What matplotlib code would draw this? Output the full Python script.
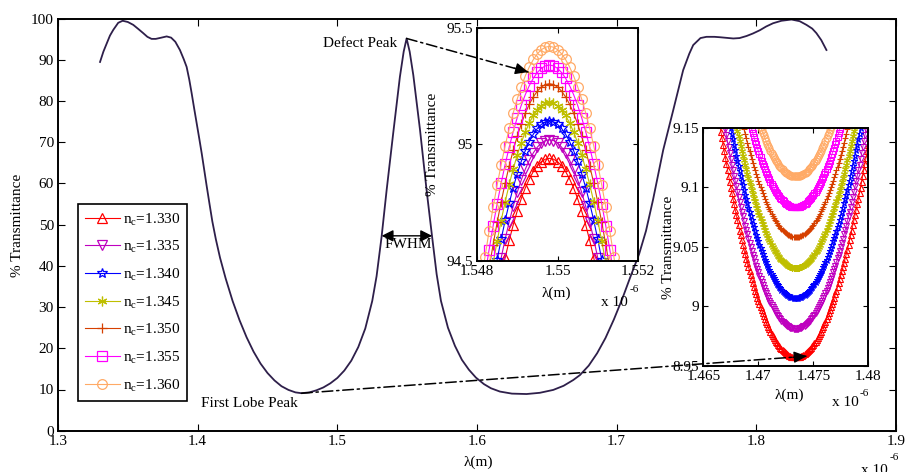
import numpy as np
import matplotlib.pyplot as plt
from matplotlib.patches import ConnectionPatch

plt.rcParams['font.family'] = ['Liberation Serif', 'DejaVu Serif']
plt.rcParams['font.size'] = 11
plt.rcParams['mathtext.fontset'] = 'custom'
plt.rcParams['mathtext.rm'] = 'Liberation Serif'

# transmission spectrum (wavelength in um, transmittance in %)
wl_main = [1.3301, 1.3325, 1.3349, 1.3372, 1.3396, 1.3431, 1.3463, 1.3500, 1.3539,
           1.3575, 1.3610, 1.3640, 1.3670, 1.3700, 1.3740, 1.3778, 1.3810, 1.3840,
           1.3873, 1.3900, 1.3921, 1.3940, 1.3957, 1.3975, 1.3993, 1.4011, 1.4029,
           1.4047, 1.4064, 1.4085, 1.4105, 1.4130, 1.4160, 1.4200, 1.4250, 1.4300,
           1.4350, 1.4400, 1.4450, 1.4500, 1.4550, 1.4600, 1.4650, 1.4700, 1.4744,
           1.4800, 1.4850, 1.4900, 1.4950, 1.5000, 1.5050, 1.5100, 1.5150, 1.5200,
           1.5250, 1.5281, 1.5317, 1.5353, 1.5400, 1.5448, 1.5475, 1.5496, 1.5518,
           1.5544, 1.5592, 1.5639, 1.5677, 1.5711, 1.5742, 1.5792, 1.5842, 1.5892,
           1.5942, 1.5992, 1.6050, 1.6100, 1.6164, 1.6250, 1.6355, 1.6450, 1.6546,
           1.6620, 1.6689, 1.6737, 1.6800, 1.6860, 1.6920, 1.6980, 1.7040, 1.7100,
           1.7160, 1.7210, 1.7260, 1.7333, 1.7405, 1.7476, 1.7520, 1.7548, 1.7600,
           1.7643, 1.7700, 1.7740, 1.7835, 1.7880, 1.7930, 1.7975, 1.8025, 1.8070,
           1.8120, 1.8180, 1.8252, 1.8310, 1.8359, 1.8400, 1.8430, 1.8465, 1.8502]
t_main = [89.5, 92.0, 94.0, 95.9, 97.3, 99.0, 99.5, 99.2, 98.5,
          97.5, 96.5, 95.6, 95.1, 95.1, 95.4, 95.7, 95.4, 94.4,
          92.4, 90.2, 88.3, 85.2, 81.9, 78.2, 74.6, 71.0, 67.3,
          63.3, 59.5, 55.0, 50.8, 46.5, 42.0, 37.0, 31.5, 26.8,
          22.7, 19.2, 16.3, 14.0, 12.2, 10.8, 9.9, 9.3, 9.1,
          9.3, 9.8, 10.5, 11.5, 12.8, 14.6, 17.0, 20.3, 24.8,
          31.5, 37.5, 47.1, 58.4, 72.2, 85.9, 92.0, 95.2, 92.0,
          86.3, 73.0, 58.4, 47.5, 38.0, 31.5, 25.0, 20.6, 17.2,
          14.8, 12.9, 11.3, 10.3, 9.5, 9.0, 8.9, 9.2, 9.9,
          10.9, 12.3, 13.5, 15.8, 18.8, 22.5, 27.0, 32.0, 37.5,
          42.8, 48.5, 56.0, 68.1, 77.8, 87.5, 91.5, 93.6, 95.3,
          95.6, 95.6, 95.5, 95.2, 95.3, 95.8, 96.4, 97.2, 98.1,
          98.9, 99.5, 99.8, 99.4, 98.5, 97.6, 96.5, 94.8, 92.4]

nc_labels = ['1.330', '1.335', '1.340', '1.345', '1.350', '1.355', '1.360']
colors = ['#ff0000', '#bf00bf', '#0000ff', '#bfbf00', '#d64000', '#ff00ff', '#ffaa66']
markers = ['^', 'v', '*', (6, 2, 0), '+', 's', 'o']

# defect peak zoom: peak value per n_c and fall-off per 0.1 nm step from the peak
defect_wl0 = 1.5498
defect_peak = [94.94, 95.02, 95.10, 95.18, 95.26, 95.34, 95.42]
defect_drop = [0.0, 0.0035, 0.0141, 0.0317, 0.0563, 0.0880, 0.1267, 0.1725, 0.2253,
               0.2851, 0.3520, 0.4259, 0.5069, 0.5949, 0.6899, 0.7920, 0.9011, 1.0173,
               1.1405, 1.2707, 1.4080, 1.5523, 1.7037]

# first lobe zoom: minimum per n_c and rise per 0.1 nm step from the minimum
lobe_wl0 = 1.4734
lobe_min = [8.957, 8.981, 9.007, 9.032, 9.058, 9.083, 9.109]
lobe_rise = [0.0, 0.0, 0.0002, 0.0004, 0.0007, 0.0010, 0.0015, 0.0020, 0.0026, 0.0033,
             0.0041, 0.0050, 0.0059, 0.0069, 0.0080, 0.0092, 0.0105, 0.0118, 0.0133, 0.0148,
             0.0164, 0.0181, 0.0198, 0.0217, 0.0236, 0.0256, 0.0277, 0.0299, 0.0321, 0.0345,
             0.0369, 0.0394, 0.0420, 0.0446, 0.0474, 0.0502, 0.0531, 0.0561, 0.0592, 0.0624,
             0.0656, 0.0689, 0.0723, 0.0758, 0.0794, 0.0830, 0.0868, 0.0906, 0.0945, 0.0984,
             0.1025, 0.1066, 0.1109, 0.1152, 0.1196, 0.1240, 0.1286, 0.1332, 0.1379, 0.1427,
             0.1476, 0.1526, 0.1576, 0.1627, 0.1679, 0.1732, 0.1786, 0.1840, 0.1896, 0.1952,
             0.2009]

W, H = 908, 472


def at(x, y):
    return x / W, 1 - y / H


def both_sides(center, step, profile):
    prof = np.asarray(profile)
    offs = np.arange(len(prof)) * step
    x = np.concatenate([center - offs[:0:-1], center + offs])
    p = np.concatenate([prof[:0:-1], prof])
    return x, p


def style_axes(a, ticklen):
    a.tick_params(direction='in', top=True, right=True, length=ticklen, width=0.8,
                  labelsize=11, pad=3)
    for s in a.spines.values():
        s.set_linewidth(1.4)


fig = plt.figure(figsize=(W / 100, H / 100), dpi=100)

ax = fig.add_axes([58 / W, 1 - 430.7 / H, 838 / W, 412 / H])
ax.plot(wl_main, t_main, color='#2e1f4a', lw=1.3)
ax.set_xlim(1.3, 1.9)
ax.set_ylim(0, 100)
ax.set_xticks([1.3, 1.4, 1.5, 1.6, 1.7, 1.8, 1.9],
              ['1.3', '1.4', '1.5', '1.6', '1.7', '1.8', '1.9'])
ax.set_yticks(range(0, 101, 10), [str(v) for v in range(0, 101, 10)])
style_axes(ax, 5)

# FWHM marker and annotations
ax.annotate('', xy=(1.5317, 47.3), xytext=(1.5679, 47.3),
            arrowprops=dict(arrowstyle='<|-|>,head_length=0.5,head_width=0.25',
                            color='k', lw=1, mutation_scale=14, shrinkA=0, shrinkB=0))
ax.text(1.5505, 45.1, 'FWHM', ha='center', va='center')
ax.text(1.5427, 94.0, 'Defect Peak', ha='right', va='center')
ax.text(1.4369, 6.6, 'First Lobe Peak', ha='center', va='center')

# zoom on the defect peak
ins1 = fig.add_axes([477 / W, 1 - 261 / H, 161 / W, 233.3 / H])
handles = []
for pk, c, m in zip(defect_peak, colors, markers):
    x, d = both_sides(defect_wl0, 0.0001, defect_drop)
    h, = ins1.plot(x, pk - d, color=c, marker=m, ms=7, mfc='none', mew=0.9, lw=0.8)
    handles.append(h)
ins1.set_xlim(1.548, 1.552)
ins1.set_ylim(94.5, 95.5)
ins1.set_xticks([1.548, 1.55, 1.552], ['1.548', '1.55', '1.552'])
ins1.set_yticks([94.5, 95, 95.5], ['94.5', '95', '95.5'])
style_axes(ins1, 3.5)

# zoom on the first lobe
ins2 = fig.add_axes([703.3 / W, 1 - 365.7 / H, 165 / W, 238 / H])
for mn, c, m in zip(lobe_min, colors, markers):
    x, r = both_sides(lobe_wl0, 0.0001, lobe_rise)
    ins2.plot(x, mn + r, color=c, marker=m, ms=5, mfc='none', mew=0.8, lw=0.6)
ins2.set_xlim(1.465, 1.48)
ins2.set_ylim(8.95, 9.15)
ins2.set_xticks([1.465, 1.47, 1.475, 1.48], ['1.465', '1.47', '1.475', '1.48'])
ins2.set_yticks([8.95, 9.0, 9.05, 9.1, 9.15], ['8.95', '9', '9.05', '9.1', '9.15'])
style_axes(ins2, 3.5)

leg = ax.legend(handles, ['n$_\\mathregular{c}$=' + s for s in nc_labels],
                loc='lower left', bbox_to_anchor=(20 / 838, 30 / 412),
                borderaxespad=0, fancybox=False, edgecolor='k', framealpha=1,
                handlelength=2.3, handletextpad=0.2, labelspacing=0.72, borderpad=0.45,
                fontsize=11)
leg.get_frame().set_linewidth(1.2)

# dash-dot leaders from the main curve into the zooms
dash = (0, (7, 2.5, 1.5, 2.5))
for xyA, xyB, tgt in [((1.5496, 95.2), (1.54927, 95.31), ins1),
                      ((1.4744, 9.1), (1.4744, 8.958), ins2)]:
    cp = ConnectionPatch(xyA=xyA, coordsA=ax.transData, xyB=xyB, coordsB=tgt.transData,
                         color='k', lw=1.1, linestyle=dash)
    cp.set_zorder(5)
    fig.add_artist(cp)

ins1.annotate('', xy=(1.54927, 95.31), xytext=(-10, 2.8), textcoords='offset points',
              arrowprops=dict(arrowstyle='-|>,head_length=0.55,head_width=0.25',
                              color='k', lw=1, mutation_scale=14, shrinkA=0, shrinkB=0))
ins2.annotate('', xy=(1.4744, 8.958), xytext=(-10, -0.8), textcoords='offset points',
              arrowprops=dict(arrowstyle='-|>,head_length=0.55,head_width=0.25',
                              color='k', lw=1, mutation_scale=14, shrinkA=0, shrinkB=0))

# axis labels
fig.text(*at(18, 225), '% Transmittance', rotation=90, ha='center', va='center')
fig.text(*at(478, 462), 'λ(m)', ha='center', va='center')
fig.text(*at(432, 144), '% Transmittance', rotation=90, ha='center', va='center')
fig.text(*at(556, 293), 'λ(m)', ha='center', va='center')
fig.text(*at(668, 247), '% Transmittance', rotation=90, ha='center', va='center')
fig.text(*at(789, 395), 'λ(m)', ha='center', va='center')

# exponent notes
for (xb, yb), (xe, ye) in [((874, 471), (894, 458)),
                           ((614, 302), (634, 290)),
                           ((845, 403), (864, 393))]:
    fig.text(*at(xb, yb), 'x 10', ha='center', va='center')
    fig.text(*at(xe, ye), '-6', ha='center', va='center', fontsize=8)

fig.savefig('out.png', dpi=100)
